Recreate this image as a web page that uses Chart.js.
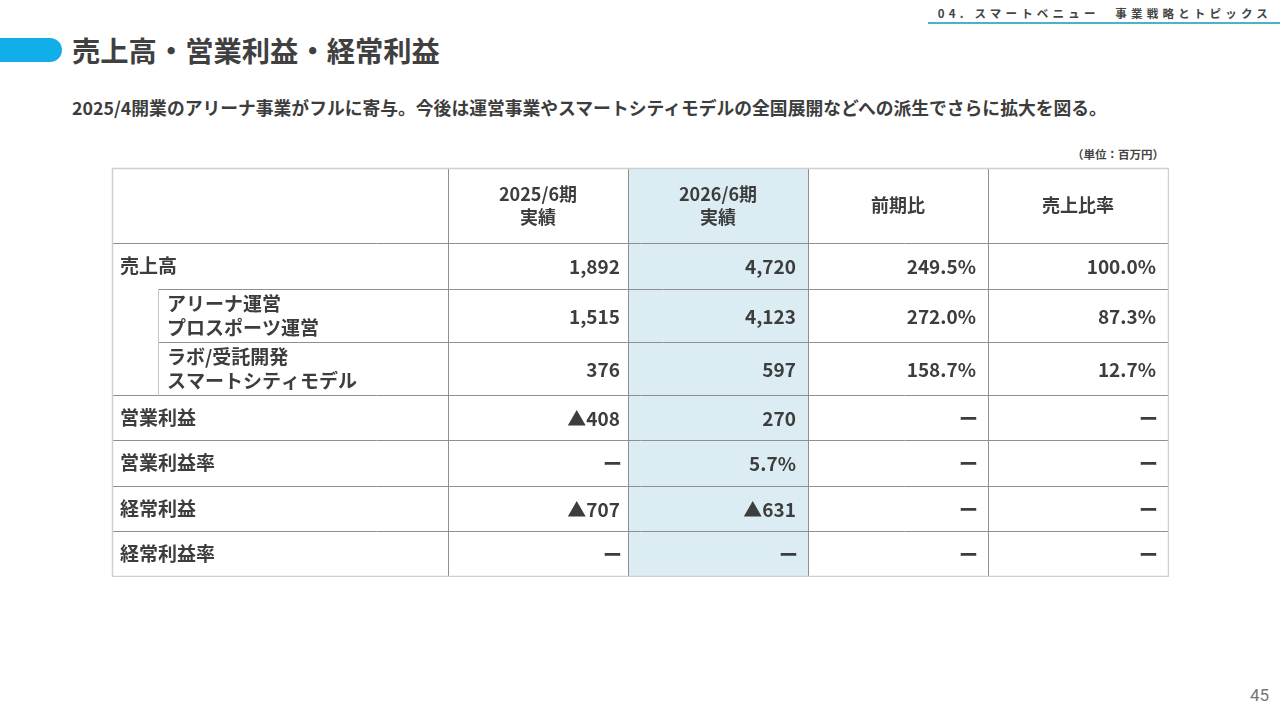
<!DOCTYPE html>
<html lang="ja">
<head>
<meta charset="utf-8">
<script src="https://cdn.jsdelivr.net/npm/chart.js@4.4.1/dist/chart.umd.min.js"></script>
<style>
html, body { margin: 0; padding: 0; width: 1280px; height: 720px; background: #fff; overflow: hidden; }
body { position: relative; font-family: 'Noto Sans CJK JP', sans-serif; color: #3d3d3d; }
.tab { position: absolute; left: 0; top: 38px; width: 62px; height: 24px; background: #12aee9; border-radius: 0 12px 12px 0; }
.title { position: absolute; left: 72px; top: 30px; font-size: 28.3px; font-weight: bold; line-height: 40px; color: #404040; }
.section { position: absolute; right: 8px; top: 4px; font-size: 11.5px; font-weight: bold; letter-spacing: 4.2px; color: #444; line-height: 18px; }
.section-line { position: absolute; left: 928px; right: 0; top: 22px; height: 2px; background: #4bb3c8; }
.lead { position: absolute; left: 72px; top: 94px; font-size: 17.8px; font-weight: bold; line-height: 26px; color: #3d3d3d; }
.unit { position: absolute; right: 116px; top: 145px; font-size: 11.5px; font-weight: bold; color: #444; line-height: 18px; }
.page { position: absolute; right: 11px; top: 685px; font-size: 17px; color: #777; font-family: 'Roboto', sans-serif; }
#wrap { position: absolute; left: 111px; top: 167px; width: 1058px; height: 410px; }
</style>
</head>
<body>
<div class="tab"></div>
<div class="title">売上高・営業利益・経常利益</div>
<div class="section">04. スマートベニュー　事業戦略とトピックス</div>
<div class="section-line"></div>
<div class="lead">2025/4開業のアリーナ事業がフルに寄与。今後は運営事業やスマートシティモデルの全国展開などへの派生でさらに拡大を図る。</div>
<div class="unit">（単位：百万円）</div>
<div class="page">45</div>
<div id="wrap"><canvas id="table" width="1058" height="410"></canvas></div>

<script>
// table content (百万円)
const columnHeaders = ['', '2025/6期\n実績', '2026/6期\n実績', '前期比', '売上比率'];
const rowLabels = ['売上高', 'アリーナ運営\nプロスポーツ運営', 'ラボ/受託開発\nスマートシティモデル', '営業利益', '営業利益率', '経常利益', '経常利益率'];
const rowLevel = [0, 1, 1, 0, 0, 0, 0];
const rowIsRate = [false, false, false, false, true, false, true];
const fy2025 = [1892, 1515, 376, -408, null, -707, null];
const fy2026 = [4720, 4123, 597, 270, 5.7, -631, null];
const yoyPct = [249.5, 272.0, 158.7, null, null, null, null];
const salesRatioPct = [100.0, 87.3, 12.7, null, null, null, null];

// table grid in scale units
const colEdges = [0, 336, 516, 696, 876, 1056];
const rowEdges = [0, 75, 121, 174, 227, 272, 318, 363, 408];
const cellPadRight = [8, 12, 12, 12];
const indent = 46;
const highlightCol = 2;
const DASH = 'ー';

function fmtAmount(v, rate) {
    if (v === null) return DASH;
    if (rate) return v.toFixed(1) + '%';
    const s = Math.abs(v).toLocaleString('en-US');
    return v < 0 ? '▲' + s : s;
}
function fmtPct(v) {
    return v === null ? DASH : v.toFixed(1) + '%';
}

const tablePlugin = {
    id: 'tablePlugin',
    afterDraw(chart) {
        const ctx = chart.ctx;
        const xs = chart.scales.x, ys = chart.scales.y;
        const px = v => Math.round(xs.getPixelForValue(v)) + 0.5;
        const py = v => Math.round(ys.getPixelForValue(v)) + 0.5;
        const top = py(rowEdges[0]), bottom = py(rowEdges[rowEdges.length - 1]);
        const left = px(colEdges[0]), right = px(colEdges[colEdges.length - 1]);

        ctx.save();
        // highlighted column
        ctx.fillStyle = '#dbedf3';
        ctx.fillRect(px(colEdges[highlightCol]), top, px(colEdges[highlightCol + 1]) - px(colEdges[highlightCol]), bottom - top);

        // inner horizontal lines; lines above sub rows start at the indent
        ctx.lineWidth = 1;
        ctx.strokeStyle = '#8f8f8f';
        for (let k = 1; k < rowEdges.length - 1; k++) {
            const x0 = rowLevel[k - 1] === 1 ? px(indent) : left;
            ctx.beginPath();
            ctx.moveTo(x0, py(rowEdges[k]));
            ctx.lineTo(right, py(rowEdges[k]));
            ctx.stroke();
        }
        // inner vertical lines
        for (let j = 1; j < colEdges.length - 1; j++) {
            ctx.beginPath();
            ctx.moveTo(px(colEdges[j]), top);
            ctx.lineTo(px(colEdges[j]), bottom);
            ctx.stroke();
        }
        // indent line beside sub rows
        ctx.strokeStyle = '#c8c8c8';
        ctx.beginPath();
        ctx.moveTo(px(indent), py(rowEdges[2]));
        ctx.lineTo(px(indent), py(rowEdges[4]));
        ctx.stroke();
        // outer border
        ctx.strokeStyle = '#cfcfcf';
        ctx.lineWidth = 1.5;
        ctx.strokeRect(left, top, right - left, bottom - top);

        // header text
        ctx.fillStyle = '#3d3d3d';
        ctx.textBaseline = 'middle';
        ctx.textAlign = 'center';
        ctx.font = 'bold 18px "Noto Sans CJK JP"';
        const hy = (ys.getPixelForValue(rowEdges[0]) + ys.getPixelForValue(rowEdges[1])) / 2;
        columnHeaders.forEach((h, j) => {
            if (!h) return;
            const cx = (xs.getPixelForValue(colEdges[j]) + xs.getPixelForValue(colEdges[j + 1])) / 2;
            const lines = h.split('\n');
            lines.forEach((ln, k) => {
                ctx.fillText(ln, cx, hy + (k - (lines.length - 1) / 2) * 23);
            });
        });

        // body rows
        ctx.font = 'bold 19px "Noto Sans CJK JP"';
        rowLabels.forEach((label, i) => {
            const cy = (ys.getPixelForValue(rowEdges[i + 1]) + ys.getPixelForValue(rowEdges[i + 2])) / 2;
            const lx = xs.getPixelForValue(rowLevel[i] ? indent + 9 : 8);
            const lines = label.split('\n');
            ctx.textAlign = 'left';
            lines.forEach((ln, k) => {
                ctx.fillText(ln, lx, cy + (k - (lines.length - 1) / 2) * 24);
            });
            const cells = [
                fmtAmount(fy2025[i], rowIsRate[i]),
                fmtAmount(fy2026[i], rowIsRate[i]),
                fmtPct(yoyPct[i]),
                fmtPct(salesRatioPct[i])
            ];
            ctx.textAlign = 'right';
            cells.forEach((t, j) => {
                const pad = t === DASH ? cellPadRight[j] - 2 : cellPadRight[j];
                ctx.fillText(t, xs.getPixelForValue(colEdges[j + 2]) - pad, cy + 1);
            });
        });
        ctx.restore();
    }
};

new Chart(document.getElementById('table'), {
    type: 'scatter',
    data: { datasets: [] },
    options: {
        responsive: false,
        animation: false,
        layout: { padding: 1 },
        plugins: { legend: { display: false }, tooltip: { enabled: false } },
        scales: {
            x: { type: 'linear', min: 0, max: 1056, display: false },
            y: { type: 'linear', min: 0, max: 408, reverse: true, display: false }
        }
    },
    plugins: [tablePlugin]
});
</script>
</body>
</html>
